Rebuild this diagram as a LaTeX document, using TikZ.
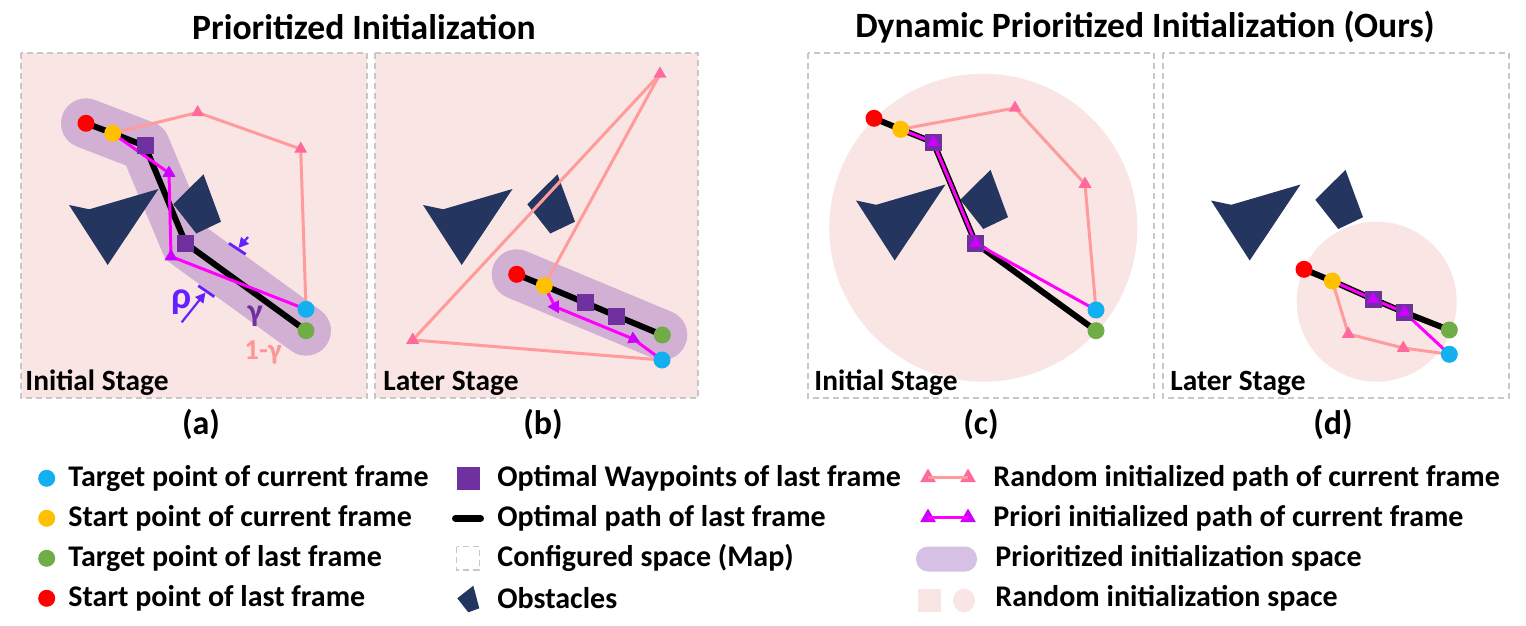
\documentclass[tikz,border=0pt]{standalone}
\usepackage{fontspec}
\setmainfont{Carlito}
\usetikzlibrary{shapes.geometric,arrows.meta}
\definecolor{bgpink}{RGB}{249,230,228}
\definecolor{cband}{RGB}{210,176,212}
\definecolor{cbandleg}{RGB}{214,193,228}
\definecolor{cblue}{RGB}{18,176,240}
\definecolor{cyellow}{RGB}{255,192,0}
\definecolor{cgreen}{RGB}{112,173,71}
\definecolor{cred}{RGB}{255,0,0}
\definecolor{cpurple}{RGB}{112,48,160}
\definecolor{cobst}{RGB}{36,54,96}
\definecolor{ctripink}{RGB}{255,105,155}
\definecolor{cpinkline}{RGB}{255,155,155}
\definecolor{cmag}{RGB}{255,0,255}
\definecolor{ctrimag}{RGB}{204,0,255}
\definecolor{crho}{RGB}{102,31,255}
\definecolor{cgam}{RGB}{112,48,160}
\definecolor{cgamp}{RGB}{255,150,150}
\pgfdeclarelayer{lbg}
\pgfdeclarelayer{lband}
\pgfdeclarelayer{lobst}
\pgfdeclarelayer{lpath}
\pgfsetlayers{lbg,lband,lobst,lpath,main}
\newcommand\obstshape{%
  \fill[obst] (48,152)--(68.3,156.3)--(137.5,136)--(86.7,212)--cycle;
  \fill[obst] (182.5,121.3)--(200,168.7)--(175.3,180.5)--(152.3,151.3)--cycle;}
\begin{document}
\begin{tikzpicture}[x=0.5pt,y=-0.5pt,font=\bfseries,
  dot/.style={circle,inner sep=0pt,minimum size=8.5pt,fill=#1},
  wp/.style={rectangle,inner sep=0pt,minimum size=8.5pt,fill=cpurple},
  ptri/.style={regular polygon,regular polygon sides=3,inner sep=0pt,minimum size=7.5pt,fill=ctripink},
  mtri/.style={regular polygon,regular polygon sides=3,inner sep=0pt,minimum size=7.5pt,fill=ctrimag},
  obst/.style={fill=cobst},
  mapbox/.style={draw=black!22,dash pattern=on 3pt off 2pt,line width=0.6pt},
  band/.style={line width=25pt,draw=cband,line cap=round,line join=round},
  opt/.style={line width=3pt,line cap=round,line join=round,draw=black},
  mag/.style={line width=1.5pt,draw=cmag,line join=round},
  rnd/.style={line width=1.5pt,draw=cpinkline,line join=round},
  stage/.style={anchor=base west,font=\bfseries\fontsize{14.7}{17}\selectfont,inner sep=0pt},
  title/.style={font=\bfseries\fontsize{17.8}{20}\selectfont},
  sub/.style={font=\bfseries\fontsize{17}{20}\selectfont},
  leg/.style={anchor=west,font=\bfseries\fontsize{15}{18}\selectfont,inner sep=0pt}]
\useasboundingbox (0,0) rectangle (1526,626);

% titles
\node[title] (t1) at (364,27) {Prioritized Initialization};
\node[title] (t2) at (1145,27) {Dynamic Prioritized Initialization (Ours)};

% ================= panel (a)
\begin{pgfonlayer}{lbg}
\fill[bgpink] (21,53) rectangle (367,398);
\draw[mapbox] (21,53) rectangle (367,398);
\end{pgfonlayer}
\node[dot=cred] (ar) at (86,123.3) {};
\node[dot=cyellow] (ay) at (112.7,133.3) {};
\node[wp] (as1) at (145,146) {};
\node[wp] (as2) at (185.7,243.3) {};
\node[dot=cgreen] (ag) at (306,330.7) {};
\node[dot=cblue] (ab) at (306,309.3) {};
\node[ptri] (ap1) at (197.7,112.5) {};
\node[ptri] (ap2) at (300.7,149) {};
\node[mtri] (am1) at (169,173) {};
\node[mtri] (am2) at (171,256.5) {};
\begin{pgfonlayer}{lband}
\draw[band] (ar.center) -- (as1.center) -- (as2.center) -- (ag.center);
\end{pgfonlayer}
\begin{pgfonlayer}{lobst}
\begin{scope}[shift={(21,53)}]\obstshape\end{scope}
\end{pgfonlayer}
\begin{pgfonlayer}{lpath}
\draw[rnd] (ay.center) -- (ap1.center) -- (ap2.center) -- (ab.center);
\draw[opt] (ar.center) -- (ay.center) -- (as1.center) -- (as2.center) -- (ag.center);
\draw[mag] (ay.center) -- (am1.center) -- (am2.center) -- (ab.center);
\end{pgfonlayer}
% rho annotation
\coordinate (k1a) at (229,243.3); \coordinate (k1b) at (245.7,254.3);
\coordinate (k2a) at (198.3,285.7); \coordinate (k2b) at (214.3,296.7);
\coordinate (r1s) at (248,237); \coordinate (r1e) at (238.5,248);
\coordinate (r2s) at (181.7,322.3); \coordinate (r2e) at (205.5,292.5);
\draw[crho,line width=1.4pt] (k1a) -- (k1b);
\draw[crho,line width=1.4pt] (k2a) -- (k2b);
\draw[crho,line width=1.1pt,-{Triangle[length=5pt,width=5pt]}] (r1s) -- (r1e);
\draw[crho,line width=1.1pt,-{Triangle[length=5pt,width=5pt]}] (r2s) -- (r2e);
\node[crho,font=\bfseries\fontsize{19}{21}\selectfont] (rho) at (182,302) {ρ};
\node[cgam,font=\bfseries\fontsize{16}{18}\selectfont] (gam) at (255,316) {γ};
\node[cgamp,font=\bfseries\fontsize{14.5}{16}\selectfont] (gam1) at (263,352) {1-γ};
\node[stage] (sa) at (25,390) {Initial Stage};
\node[sub] (la) at (201,424) {(a)};

% ================= panel (b)
\begin{pgfonlayer}{lbg}
\fill[bgpink] (375,53) rectangle (698,398);
\draw[mapbox] (375,53) rectangle (698,398);
\end{pgfonlayer}
\node[dot=cred] (br) at (516.7,274.3) {};
\node[dot=cyellow] (by) at (544.3,285.7) {};
\node[wp] (bs1) at (585,302.7) {};
\node[wp] (bs2) at (616.7,316) {};
\node[dot=cgreen] (bg) at (662.3,335) {};
\node[dot=cblue] (bb) at (662,360) {};
\node[ptri] (bp1) at (660,74) {};
\node[ptri] (bp2) at (412.7,340) {};
\node[mtri,shape border rotate=-150] (bm1) at (555,306.7) {};
\node[mtri,shape border rotate=-115] (bm2) at (633.3,339) {};
\begin{pgfonlayer}{lband}
\draw[band] (br.center) -- (bg.center);
\end{pgfonlayer}
\begin{pgfonlayer}{lobst}
\begin{scope}[shift={(375,53)}]\obstshape\end{scope}
\end{pgfonlayer}
\begin{pgfonlayer}{lpath}
\draw[rnd] (by.center) -- (bp1.center) -- (bp2.center) -- (bb.center);
\draw[opt] (br.center) -- (by.center) -- (bs1.center) -- (bs2.center) -- (bg.center);
\draw[mag] (by.center) -- (bm1.center) -- (bm2.center) -- (bb.center);
\end{pgfonlayer}
\node[stage] (sb) at (383,390) {Later Stage};
\node[sub] (lb) at (543,424) {(b)};

% ================= panel (c)
\begin{pgfonlayer}{lbg}
\draw[mapbox] (808,53) rectangle (1154,398);
\fill[bgpink] (983.3,227.7) circle[radius=154];
\end{pgfonlayer}
\node[dot=cred] (cr) at (874,118.3) {};
\node[dot=cyellow] (cy) at (900.7,129.3) {};
\node[wp] (cs1) at (933.3,142.3) {};
\node[wp] (cs2) at (975.7,243.3) {};
\node[dot=cgreen] (cg) at (1096,330.7) {};
\node[dot=cblue] (cb) at (1096,310) {};
\node[ptri] (cp1) at (1015,108) {};
\node[ptri] (cp2) at (1085,184) {};
\node[mtri] (cm1) at (cs1) {};
\node[mtri] (cm2) at (cs2) {};
\begin{pgfonlayer}{lobst}
\begin{scope}[shift={(808,48.5)}]\obstshape\end{scope}
\end{pgfonlayer}
\begin{pgfonlayer}{lpath}
\draw[rnd] (cy.center) -- (cp1.center) -- (cp2.center) -- (cb.center);
\draw[opt] (cr.center) -- (cy.center) -- (cs1.center) -- (cs2.center) -- (cg.center);
\draw[mag] (cy.center) -- (cs1.center) -- (cs2.center) -- (cb.center);
\end{pgfonlayer}
\node[stage] (sc) at (814,390) {Initial Stage};
\node[sub] (lc) at (981,424) {(c)};

% ================= panel (d)
\begin{pgfonlayer}{lbg}
\draw[mapbox] (1163,53) rectangle (1509,398);
\fill[bgpink] (1376.7,301.7) circle[radius=80];
\end{pgfonlayer}
\node[dot=cred] (dr) at (1304,269.3) {};
\node[dot=cyellow] (dy) at (1332.3,281) {};
\node[wp] (ds1) at (1373.3,299.3) {};
\node[wp] (ds2) at (1404.3,312.3) {};
\node[dot=cgreen] (dg) at (1449.3,330) {};
\node[dot=cblue] (db) at (1449.3,354.3) {};
\node[ptri] (dp1) at (1348.3,334) {};
\node[ptri] (dp2) at (1403.3,348) {};
\node[mtri] (dm1) at (ds1) {};
\node[mtri] (dm2) at (ds2) {};
\begin{pgfonlayer}{lobst}
\begin{scope}[shift={(1163,48.5)}]\obstshape\end{scope}
\end{pgfonlayer}
\begin{pgfonlayer}{lpath}
\draw[rnd] (dy.center) -- (dp1.center) -- (dp2.center) -- (db.center);
\draw[opt] (dr.center) -- (dy.center) -- (ds1.center) -- (ds2.center) -- (dg.center);
\draw[mag] (dy.center) -- (ds1.center) -- (ds2.center) -- (db.center);
\end{pgfonlayer}
\node[stage] (sd) at (1170,390) {Later Stage};
\node[sub] (ld) at (1333,424) {(d)};

% ================= legend
% column 1
\node[dot=cblue] (g1) at (46.7,478.3) {};
\node[leg] (g1t) at (68,478.3) {Target point of current frame};
\node[dot=cyellow] (g2) at (46.7,518.3) {};
\node[leg] (g2t) at (68,518.3) {Start point of current frame};
\node[dot=cgreen] (g3) at (46.7,558.3) {};
\node[leg] (g3t) at (68,558.3) {Target point of last frame};
\node[dot=cred] (g4) at (46.7,598.3) {};
\node[leg] (g4t) at (68,598.3) {Start point of last frame};
% column 2
\node[wp,minimum size=11.5pt] (h1) at (468.3,478.3) {};
\node[leg] (h1t) at (497,478.3) {Optimal Waypoints of last frame};
\coordinate (h2a) at (455.5,518.3); \coordinate (h2b) at (480.5,518.3);
\draw[line width=3.5pt,line cap=round] (h2a) -- (h2b);
\node[leg] (h2t) at (497,518.3) {Optimal path of last frame};
\draw[mapbox] (456.7,546.7) rectangle (479.3,570);
\node[leg] (h3t) at (497,558.3) {Configured space (Map)};
\fill[obst] (473.3,585.7) -- (479.3,608.3) -- (468.3,612.3) -- (457.3,598.3) -- cycle;
\node[leg] (h4t) at (497,598.3) {Obstacles};
% column 3
\node[ptri,minimum size=9pt] (k1l) at (928,477.5) {};
\node[ptri,minimum size=9pt] (k1r) at (968,477.5) {};
\draw[rnd,line width=1.2pt] (k1l.center) -- (k1r.center);
\node[leg] (k1t) at (993,478.3) {Random initialized path of current frame};
\node[mtri,minimum size=9pt] (k2l) at (928,517.5) {};
\node[mtri,minimum size=9pt] (k2r) at (968,517.5) {};
\draw[mag,line width=1.2pt] (k2l.center) -- (k2r.center);
\node[leg] (k2t) at (993,518.3) {Priori initialized path of current frame};
\fill[cbandleg,rounded corners=6pt] (916,546.5) rectangle (977,571.5);
\node[leg] (k3t) at (995,558.3) {Prioritized initialization space};
\fill[bgpink] (918,589) rectangle (941,612);
\fill[bgpink] (964,600.5) ellipse[x radius=11,y radius=12];
\node[leg] (k4t) at (995,598.3) {Random initialization space};
\end{tikzpicture}
\end{document}
